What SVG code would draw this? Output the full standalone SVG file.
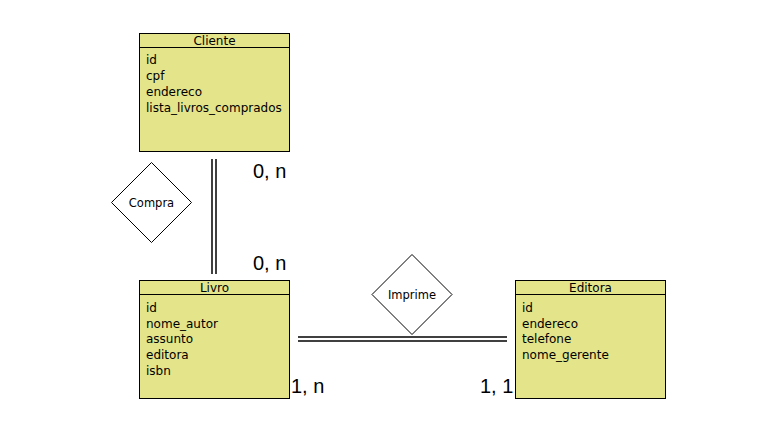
<svg xmlns="http://www.w3.org/2000/svg" width="776" height="448" viewBox="0 0 776 448">
<style>
.box{fill:#e4e48a;stroke:#000;stroke-width:1}
.t{font-family:"DejaVu Sans",sans-serif;font-size:12px;fill:#000}
.h{font-family:"DejaVu Sans",sans-serif;font-size:12px;fill:#000;text-anchor:middle}
.d{fill:#fff;stroke:#000;stroke-width:1}
.dl{font-family:"DejaVu Sans",sans-serif;font-size:11.5px;fill:#000;text-anchor:middle}
.c{font-family:"Liberation Sans",sans-serif;font-size:20px;fill:#000}
.ln{stroke:#000;stroke-width:1.5;fill:none}
</style>
<rect width="776" height="448" fill="#fff"/>
<g id="connectors">
<line class="ln" x1="212" y1="159" x2="212" y2="274"/>
<line class="ln" x1="216" y1="159" x2="216" y2="274"/>
<line class="ln" x1="298" y1="337" x2="507" y2="337"/>
<line class="ln" x1="298" y1="341" x2="507" y2="341"/>
</g>
<g id="cliente">
<rect class="box" x="139.5" y="33.5" width="150" height="118"/>
<line x1="139.5" y1="47.5" x2="289.5" y2="47.5" stroke="#000"/>
<text class="h" x="214.5" y="45">Cliente</text>
<text class="t" x="146" y="64">id</text>
<text class="t" x="146" y="80">cpf</text>
<text class="t" x="146" y="96">endereco</text>
<text class="t" x="146" y="112">lista_livros_comprados</text>
</g>
<g id="livro">
<rect class="box" x="139.5" y="280.5" width="150" height="118"/>
<line x1="139.5" y1="294.5" x2="289.5" y2="294.5" stroke="#000"/>
<text class="h" x="214.5" y="292">Livro</text>
<text class="t" x="146" y="312">id</text>
<text class="t" x="146" y="328">nome_autor</text>
<text class="t" x="146" y="343">assunto</text>
<text class="t" x="146" y="359">editora</text>
<text class="t" x="146" y="375">isbn</text>
</g>
<g id="editora">
<rect class="box" x="515.5" y="280.5" width="150" height="118"/>
<line x1="515.5" y1="294.5" x2="665.5" y2="294.5" stroke="#000"/>
<text class="h" x="590.5" y="292">Editora</text>
<text class="t" x="522" y="312">id</text>
<text class="t" x="522" y="328">endereco</text>
<text class="t" x="522" y="343">telefone</text>
<text class="t" x="522" y="359">nome_gerente</text>
</g>
<g id="compra">
<polygon class="d" points="151.5,162.5 191.5,202.5 151.5,242.5 111.5,202.5"/>
<text class="dl" x="151.5" y="207">Compra</text>
</g>
<g id="imprime">
<polygon class="d" points="412,254.5 452,294.5 412,334.5 372,294.5"/>
<text class="dl" x="412" y="299">Imprime</text>
</g>
<g id="cardinalities">
<text class="c" x="253" y="178">0, n</text>
<text class="c" x="253" y="270">0, n</text>
<text class="c" x="291" y="393">1, n</text>
<text class="c" x="480" y="393">1, 1</text>
</g>
</svg>
